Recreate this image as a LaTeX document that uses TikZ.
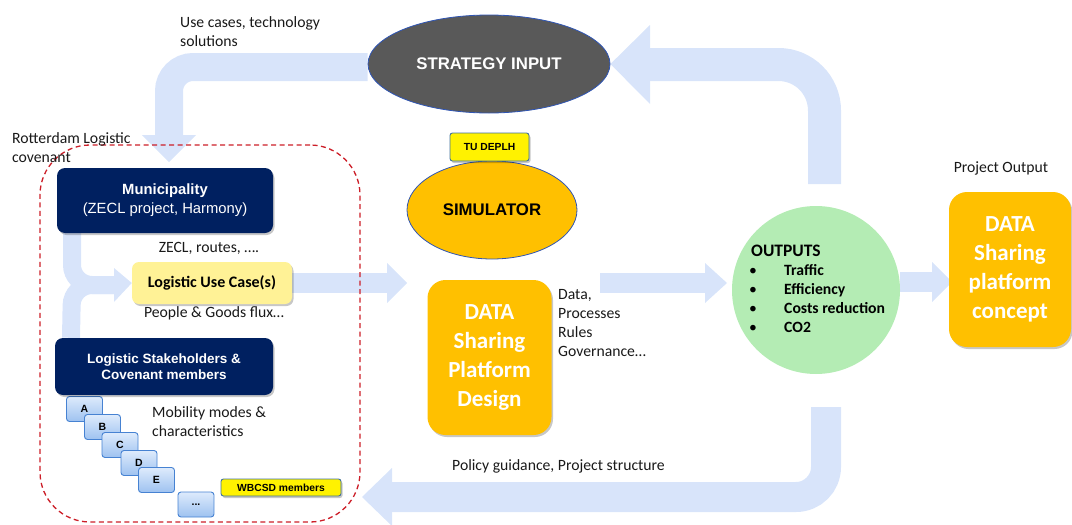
\documentclass[tikz,border=0pt]{standalone}
\usepackage{fontspec}
\setmainfont{Carlito}
\newfontfamily\arialf{Liberation Sans}
\usetikzlibrary{shapes.geometric,shadows}
\pgfdeclarelayer{background}
\pgfsetlayers{background,main}
\definecolor{arrowblue}{RGB}{216,228,250}
\definecolor{navy}{RGB}{0,32,96}
\definecolor{amber}{RGB}{255,192,0}
\definecolor{paleyellow}{RGB}{255,242,150}
\definecolor{palegreen}{RGB}{180,236,180}
\definecolor{greyfill}{RGB}{89,89,89}
\definecolor{ellborder}{RGB}{47,85,180}
\definecolor{dashred}{RGB}{204,30,40}
\definecolor{tagborder}{RGB}{65,113,156}
\definecolor{boxtop}{RGB}{222,235,252}
\definecolor{boxbot}{RGB}{158,194,240}
\definecolor{boxborder}{RGB}{70,130,210}
\definecolor{txt}{RGB}{25,25,25}
\begin{document}
\begin{tikzpicture}[x=1pt,y=-1pt,
  shd/.style={drop shadow={shadow xshift=1.5pt,shadow yshift=-2pt,opacity=0.22,fill=black}},
  note/.style={font={\fontsize{15.7}{19}\selectfont}, text=txt, inner sep=0pt, align=left},
  navybox/.style={fill=navy, rounded corners=8pt, shd, text=white, inner sep=0pt, align=center},
  amberbox/.style={fill=amber, rounded corners=18pt, shd, text=white, inner sep=0pt, align=center,
     minimum width=124pt, minimum height=155pt, font={\bfseries\fontsize{23}{29}\selectfont}},
  tagbox/.style={fill=yellow, draw=tagborder, line width=0.9pt, rounded corners=2.5pt, shd, inner sep=0pt,
     font={\arialf\bfseries\fontsize{10.3}{12}\selectfont}},
  letterbox/.style={top color=boxtop, bottom color=boxbot, draw=boxborder, line width=0.9pt, rounded corners=3pt,
     minimum width=36pt, minimum height=25pt, inner sep=0pt, font={\arialf\bfseries\fontsize{10.5}{12}\selectfont}},
  bigarrow/.style={draw=arrowblue},
  arrowhead/.style={fill=arrowblue},
]
\useasboundingbox (0,0) rectangle (1072,525);

% ---------- nodes ----------
\node[ellipse, fill=greyfill, draw=ellborder, line width=0.8pt, minimum width=242pt, minimum height=98pt,
      inner sep=0pt, text=white, font={\arialf\bfseries\fontsize{16.8}{19}\selectfont}] (strat) at (489,64) {STRATEGY INPUT};
\node[ellipse, fill=amber, draw=ellborder, line width=0.8pt, minimum width=170pt, minimum height=98pt,
      inner sep=0pt, text=black, font={\arialf\bfseries\fontsize{16.8}{19}\selectfont}] (sim) at (492,210) {SIMULATOR};
\node[tagbox, minimum width=79pt, minimum height=28pt] (tud) at (489.5,147) {TU DEPLH};

\node[amberbox] (design) at (489.5,357.5) {DATA\\Sharing\\Platform\\Design};
\node[note, anchor=west] (datalist) at (558,323.5) {Data,\\Processes\\Rules\\Governance…};

\node[circle, fill=palegreen, minimum size=168pt, inner sep=0pt] (outputs) at (816,290) {};
\node[anchor=north west, inner sep=0pt, text=black, font={\fontsize{15.7}{19}\selectfont}] (outtxt) at (749,243)
  {\begin{tabular}{@{}p{35pt}@{}l@{}}
   \multicolumn{2}{@{}l@{}}{\hspace{2pt}\fontsize{17.5}{19}\selectfont\bfseries OUTPUTS}\\
   \textbullet & \textbf{Traffic}\\
   \textbullet & \textbf{Efficiency}\\
   \textbullet & \textbf{Costs reduction}\\
   \textbullet & \textbf{CO2}
   \end{tabular}};

\node[amberbox, minimum width=122pt] (projout) at (1010,269.5) {DATA\\Sharing\\platform\\concept};
\node[note, anchor=center] (projlabel) at (1001,168) {Project Output};

\node[draw=dashred, dash pattern=on 5pt off 3.5pt, line width=1.3pt, rounded corners=50pt,
      minimum width=320pt, minimum height=377pt, inner sep=0pt] (covenant) at (200,333.5) {};
\node[note, anchor=west] (covlabel) at (12,148) {Rotterdam Logistic\\covenant};
\node[note, anchor=west] (uclabel) at (180,31.5) {Use cases, technology\\solutions};

\node[navybox, minimum width=216pt, minimum height=65pt, font={\arialf\fontsize{14.8}{19}\selectfont}] (muni) at (165,200.5)
  {{\bfseries Municipality}\\(ZECL project, Harmony)};
\node[note, anchor=center] (zecl) at (209,248) {ZECL, routes, ….};
\node[fill=paleyellow, rounded corners=7pt, shd, minimum width=160pt, minimum height=42pt, inner sep=0pt,
      text=black, font={\bfseries\fontsize{16}{18}\selectfont}] (usecase) at (212,283) {Logistic Use Case(s)};
\node[note, anchor=center] (people) at (214,313) {People \& Goods flux…};

\node[letterbox] (la) at (84.5,409) {A};
\node[letterbox] (lb) at (102.5,427) {B};
\node[letterbox] (lc) at (120,445) {C};
\node[letterbox] (ld) at (139,463) {D};
\node[letterbox] (le) at (156.5,480) {E};
\node[letterbox] (ldots) at (196,504.5) {...};
\node[navybox, minimum width=218pt, minimum height=57pt, font={\arialf\bfseries\fontsize{13.5}{16}\selectfont}] (stake) at (164,366.5)
  {Logistic Stakeholders \&\\Covenant members};
\node[note, anchor=west] (mobility) at (152,422) {Mobility modes \&\\characteristics};
\node[tagbox, minimum width=120pt, minimum height=17pt] (wbcsd) at (281,487.5) {WBCSD members};

\node[note, anchor=west] (policy) at (452,466) {Policy guidance, Project structure};

% ---------- connectors ----------
\coordinate (trA) at (824.5,184);
\coordinate (trB) at (650,64.5);
\coordinate (tlB) at (169,136);
\coordinate (tlTip) at (169,162);
\coordinate (brA) at (826,407);
\coordinate (brB) at (392,497);
\coordinate (brTip) at (362,497);
\coordinate (ucEnd) at (387,283);
\coordinate (ucTip) at (407,283);
\coordinate (dsStart) at (600,283);
\coordinate (dsEnd) at (705,283);
\coordinate (dsTip) at (727,283);
\coordinate (opStart) at (900,282);
\coordinate (opEnd) at (932,282);
\coordinate (opTip) at (952,282);
\coordinate (brMid) at (72,285);
\coordinate (brEnd) at (114,285);

\begin{pgfonlayer}{background}
  % outputs -> strategy input
  \draw[bigarrow, line width=33pt, rounded corners=46pt] (trA) |- (trB);
  \fill[arrowhead] (650,25) -- (strat.east) -- (650,104) -- cycle;
  % strategy input -> covenant
  \draw[bigarrow, line width=28pt, rounded corners=24pt] ([yshift=-3pt]strat.west) -| (tlB);
  \fill[arrowhead] (142,135) -- (tlTip) -- (196,135) -- cycle;
  % outputs -> covenant (policy guidance)
  \draw[bigarrow, line width=30pt, rounded corners=30pt] (brA) |- (brB);
  \fill[arrowhead] (392,468) -- (brTip) -- (392,526) -- cycle;
  % use case -> design
  \draw[bigarrow, line width=20pt] (usecase.east) -- (ucEnd);
  \fill[arrowhead] (387,263) -- (ucTip) -- (387,303) -- cycle;
  % design -> outputs
  \draw[bigarrow, line width=20pt] (dsStart) -- (dsEnd);
  \fill[arrowhead] (705,263) -- (dsTip) -- (705,303) -- cycle;
  % outputs -> project output
  \draw[bigarrow, line width=20pt] (opStart) -- (opEnd);
  \fill[arrowhead] (932,262) -- (opTip) -- (932,302) -- cycle;
  % municipality / stakeholders -> use case
  \draw[bigarrow, line width=18pt, rounded corners=20pt] ([xshift=-93pt]muni.south) -- (brMid) -- (brEnd);
  \draw[bigarrow, line width=18pt, rounded corners=20pt] ([xshift=-93pt]stake.north) -- (brMid) -- (brEnd);
  \fill[arrowhead] (114,268) -- (usecase.west) -- (114,302) -- cycle;
\end{pgfonlayer}
\end{tikzpicture}
\end{document}
